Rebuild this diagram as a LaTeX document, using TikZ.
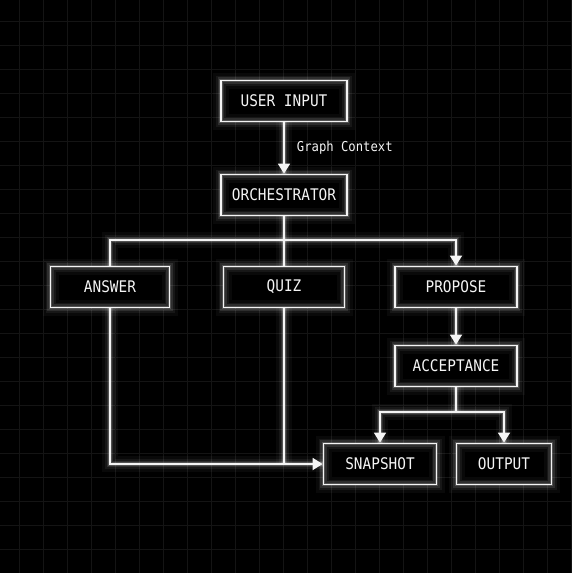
\documentclass[tikz,border=0pt]{standalone}
\usepackage{fontspec}
\usetikzlibrary{arrows.meta}
\newfontfamily\monofont[FakeStretch=0.9]{DejaVu Sans Mono}
\definecolor{gridgray}{HTML}{141414}
\definecolor{inkwhite}{HTML}{F4F4F4}

\begin{document}
\begin{tikzpicture}[x=1pt,y=-1pt,line join=miter]
	\fill[black] (0,0) rectangle (571,573);
	\useasboundingbox (0,0) rectangle (571,573);
	\foreach \gx in {19,43,...,571} \draw[gridgray,line width=.8pt] (\gx,0) -- (\gx,573);
	\foreach \gy in {21,45,...,573} \draw[gridgray,line width=.8pt] (0,\gy) -- (571,\gy);
	\begin{scope}[line width=1.8pt]
		\tikzstyle{glow}=[preaction={draw=white,opacity=.035,line width=16pt,arrows=-},preaction={draw=white,opacity=.06,line width=10pt,arrows=-},preaction={draw=white,opacity=.1,line width=6.5pt,arrows=-},preaction={draw=white,opacity=.18,line width=3.8pt,arrows=-}];
		\tikzstyle{box}=[rectangle,preaction={fill=black},glow,draw=inkwhite,minimum height=41pt,inner sep=0pt,text=inkwhite,font=\monofont\fontsize{16}{18}\selectfont];
		\tikzstyle{wire}=[draw=inkwhite,glow];
		\tikzstyle{tip}=[-{Triangle[length=10pt,width=12pt]}];
		\path (284,101) node [box,minimum width=126pt] (user)     {USER INPUT};
		\path (284,195) node [box,minimum width=126pt] (orch)     {ORCHESTRATOR};
		\path (110,287) node [box,minimum width=119pt] (answer)   {ANSWER};
		\path (284,287) node [box,minimum width=121pt] (quiz)     {QUIZ};
		\path (456,287) node [box,minimum width=122pt] (propose)  {PROPOSE};
		\path (456,366) node [box,minimum width=122pt] (accept)   {ACCEPTANCE};
		\path (380,464) node [box,minimum width=113pt] (snapshot) {SNAPSHOT};
		\path (504,464) node [box,minimum width=95pt]  (output)   {OUTPUT};
		\path (284,240) coordinate (split);
		\path (456,412) coordinate (fork);
		\draw[wire,tip] (user) -- (orch) node [midway,anchor=west,xshift=12pt,inner sep=0pt,text=inkwhite,font=\monofont\fontsize{13.6}{15}\selectfont] {Graph Context};
		\draw[wire] (orch) -- (quiz);
		\draw[wire] (split) -| (answer);
		\draw[wire,tip] (split) -| (propose);
		\draw[wire,tip] (propose) -- (accept);
		\draw[wire] (accept) -- (fork);
		\draw[wire,tip] (fork) -| (snapshot);
		\draw[wire,tip] (fork) -| (output);
		\draw[wire,tip] (answer) |- (snapshot);
		\draw[wire] (quiz) -- (quiz |- snapshot.west);
	\end{scope}
\end{tikzpicture}
\end{document}
